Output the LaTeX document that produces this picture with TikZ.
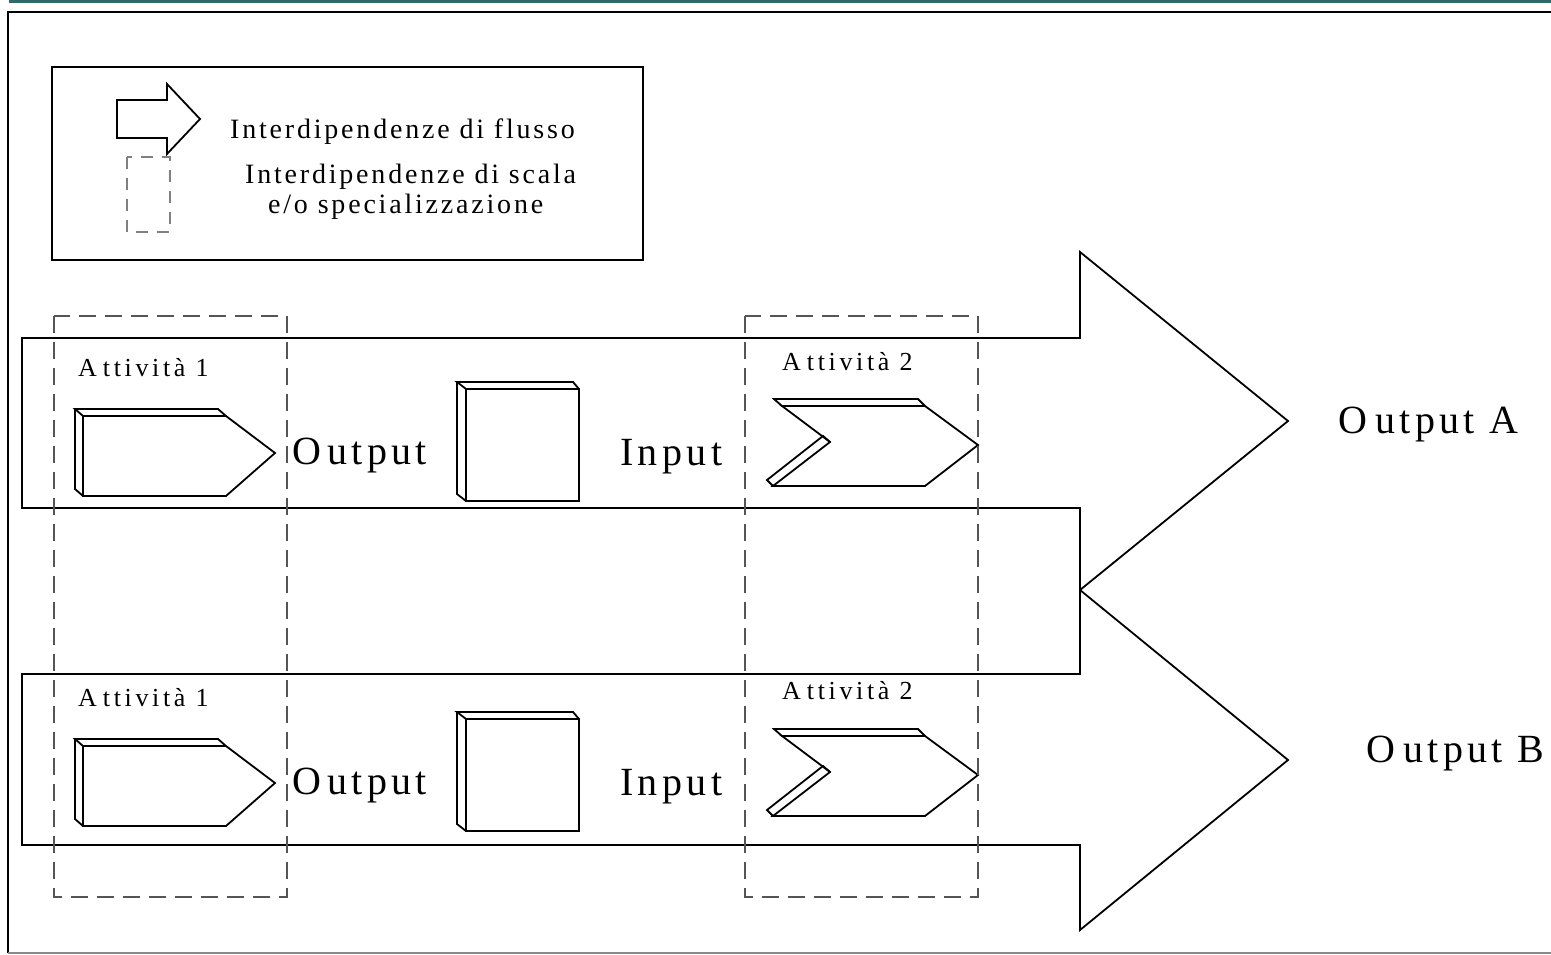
\documentclass[tikz,border=0pt]{standalone}
\usepackage{fontspec}
\setmainfont{Liberation Serif}
\newfontfamily\trackedfont{Liberation Serif}[LetterSpace=11]
\newfontfamily\legendfont{Liberation Serif}[LetterSpace=10]
\newfontfamily\labelfont{Liberation Serif}[LetterSpace=14]
\definecolor{bandteal}{HTML}{2F6A66}
\definecolor{dashgray}{HTML}{555555}
\definecolor{legdash}{HTML}{808080}
\definecolor{framegray}{HTML}{8A8A8A}

\begin{document}
\begin{tikzpicture}[x=1pt,y=-1pt,
  outline/.style={line width=1.8pt, line join=miter},
  flowarrow/.style={line width=1.8pt, line join=miter},
  groupbox/.style={dashgray, line width=1.1pt, dash pattern=on 17pt off 9pt},
  bigtext/.style={font=\trackedfont\fontsize{40}{48}\selectfont, inner sep=0pt, anchor=base west},
  legtext/.style={font=\legendfont\fontsize{28}{32}\selectfont, inner sep=0pt, anchor=base west},
  acttext/.style={font=\labelfont\fontsize{26}{30}\selectfont, inner sep=0pt, anchor=base west}]

\useasboundingbox (0,0) rectangle (1551,955);

% page frame
\fill[bandteal] (9,0) rectangle (1551,3);
\draw[line width=2pt] (8,953) -- (8,12) -- (1551,12);
\draw[framegray, line width=1.5pt] (8,953) -- (1551,953);

% legend
\draw[line width=2pt] (52,67) rectangle (643,260);
\draw[outline] (117,100) -- (167,100) -- (167,84) -- (200,119) -- (167,154)
  -- (167,138) -- (117,138) -- cycle;
\draw[legdash, line width=1.1pt, dash pattern=on 12pt off 9pt] (127,157) rectangle (170,232);
\node[legtext] (legflow) at (230,139) {Interdipendenze di flusso};
\node[legtext] (legscale) at (245,184) {Interdipendenze di scala};
\node[legtext] (legspec) at (268,213) {e/o specializzazione};

% flow arrows towards the two outputs
\draw[flowarrow] (22,338) -- (1080,338) -- (1080,252) -- (1288,421) -- (1080,590)
  -- (1080,508) -- (22,508) -- cycle;
\draw[flowarrow] (22,674) -- (1080,674) -- (1080,590) -- (1288,760) -- (1080,930)
  -- (1080,845) -- (22,845) -- cycle;
\node[bigtext] (outA) at (1338,433) {O\kern8pt utput A};
\node[bigtext] (outB) at (1366,762) {O\kern8pt utput B};

% two rows: activity 1 -> output -> input -> activity 2
\foreach \dy/\r in {0/a,330/b}{
  \begin{scope}[shift={(0,\dy)}]
    % activity 1: pentagon block
    \draw[outline] (83,416) -- (226,416) -- (275,453) -- (226,496) -- (83,496) -- cycle;
    \draw[outline] (83,416) -- (75,409) -- (218,409) -- (226,416);
    \draw[outline] (75,409) -- (75,489) -- (83,496);
    % intermediate product: square block
    \draw[outline] (466,389) rectangle (579,501);
    \draw[outline] (466,389) -- (457,382) -- (573,382) -- (579,389);
    \draw[outline] (457,382) -- (457,494) -- (466,501);
    % activity 2: chevron block
    \draw[outline] (782,406) -- (925,406) -- (978,445) -- (925,486) -- (773,486)
      -- (830,442) -- cycle;
    \draw[outline] (782,406) -- (774,399) -- (918,399) -- (925,406);
    \draw[outline] (773,486) -- (767,480) -- (823,436) -- (830,442);
    % labels
    \node[acttext] (act1\r) at (78,376) {A\kern6pt ttività 1};
    \node[bigtext] (out\r) at (292,464) {O\kern6pt utput};
    \node[bigtext] (in\r) at (620,465) {Input};
  \end{scope}
}
\node[acttext] (act2a) at (782,370) {A\kern6pt ttività 2};
\node[acttext] (act2b) at (782,699) {A\kern6pt ttività 2};

% groups of activities sharing scale / specialisation
\draw[groupbox] (54,316) rectangle (287,897);
\draw[groupbox] (745,316) rectangle (978,897);

\end{tikzpicture}
\end{document}
